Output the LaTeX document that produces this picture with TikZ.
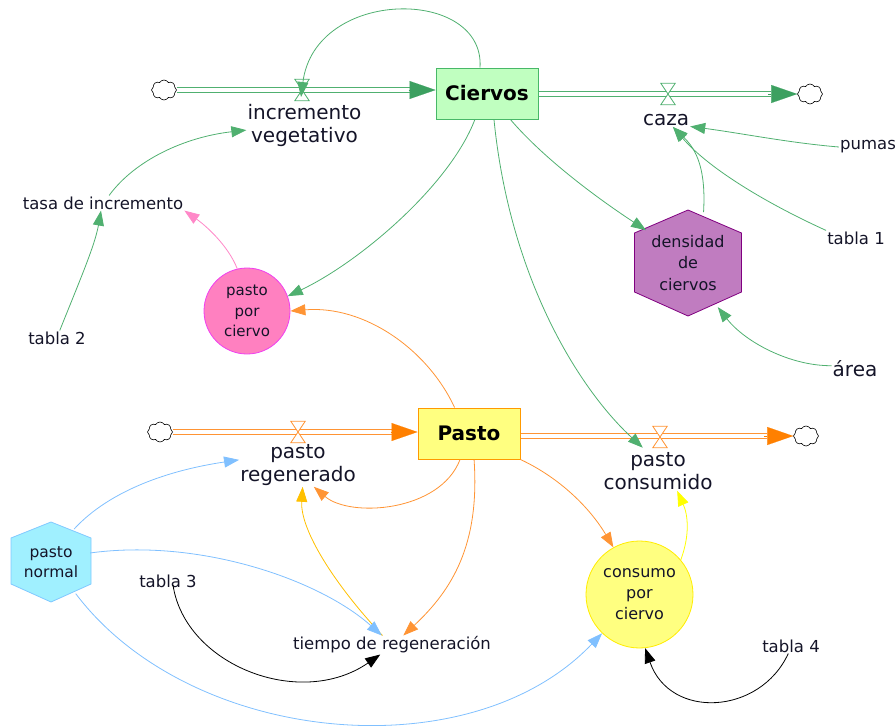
\documentclass[tikz,border=0pt]{standalone}
\usepackage{fontspec}
\setmainfont{DejaVu Sans}
\usetikzlibrary{arrows.meta,shapes.symbols,calc}
\definecolor{gline}{RGB}{80,176,112}
\definecolor{garrow}{RGB}{60,160,96}
\definecolor{cfill}{RGB}{192,255,192}
\definecolor{cdraw}{RGB}{72,184,104}
\definecolor{oline}{RGB}{255,148,52}
\definecolor{oarrow}{RGB}{255,128,0}
\definecolor{pfill}{RGB}{255,255,128}
\definecolor{pdraw}{RGB}{255,153,0}
\definecolor{pinkc}{RGB}{255,136,200}
\definecolor{ppcfill}{RGB}{255,128,192}
\definecolor{ppcdraw}{RGB}{240,64,240}
\definecolor{dfill}{RGB}{192,124,192}
\definecolor{ddraw}{RGB}{128,0,128}
\definecolor{nfill}{RGB}{160,240,255}
\definecolor{ndraw}{RGB}{128,200,255}
\definecolor{bline}{RGB}{128,192,255}
\definecolor{yel}{RGB}{255,255,0}
\definecolor{yfill}{RGB}{255,255,128}
\definecolor{yorange}{RGB}{255,192,0}
\definecolor{txt}{RGB}{20,20,40}
\tikzset{
  lbl/.style={font=\fontsize{20}{23}\selectfont, text=txt, align=center, inner sep=1pt},
  sm/.style={font=\fontsize{16.5}{20}\selectfont, text=txt, inner sep=1pt},
  stock/.style={draw, line width=1pt, minimum width=102pt, minimum height=51pt,
    font=\bfseries\fontsize{20}{24}\selectfont, text=black, inner sep=0pt},
  valve/.style={inner sep=0pt, minimum width=14pt, minimum height=21pt},
  cld/.style={cloud, cloud puffs=8, cloud puff arc=120, cloud ignores aspect, draw=black,
    line width=0.6pt, minimum width=25pt, minimum height=20pt, inner sep=0pt},
  conn/.style={line width=0.8pt, -{Triangle[length=15pt,width=11pt]}},
  flowln/.style={line width=1pt, double=white, double distance=3.5pt},
  ftip/.style={line width=0.1pt, -{Triangle[length=26pt,width=18pt]}},
  vdraw/.style={line width=0.8pt, fill=white},
}
\begin{document}
\begin{tikzpicture}[x=1pt,y=-1pt]
\useasboundingbox (0,0) rectangle (896,726);

% ---------- shaped backgrounds ----------
\coordinate (densc) at (688,263);
\coordinate (pnc) at (51,562);
\path[fill=dfill, draw=ddraw, line width=0.8pt]
  ($(densc)+(0,-53)$) -- ($(densc)+(53.5,-30)$) -- ($(densc)+(53.5,29)$) --
  ($(densc)+(0,53)$) -- ($(densc)+(-53.5,29)$) -- ($(densc)+(-53.5,-30)$) -- cycle;
\path[fill=nfill, draw=ndraw, line width=0.8pt]
  ($(pnc)+(0,-40)$) -- ($(pnc)+(40,-24)$) -- ($(pnc)+(40,22)$) --
  ($(pnc)+(0,40)$) -- ($(pnc)+(-40,22)$) -- ($(pnc)+(-40,-24)$) -- cycle;

% ---------- nodes ----------
\node[stock, fill=cfill, draw=cdraw] (ciervos) at (487,93.5) {Ciervos};
\node[stock, fill=pfill, draw=pdraw] (pasto) at (469,433.5) {Pasto};

\node[cld] (c1) at (164,90) {};
\node[cld] (c2) at (810,94) {};
\node[cld] (c3) at (160,432) {};
\node[cld] (c4) at (806,436) {};

\node[valve] (v1) at (302,90) {};
\node[valve] (v2) at (668,94) {};
\node[valve] (v3) at (298,432) {};
\node[valve] (v4) at (660,437) {};

\node[lbl] (incr) at (304.5,125) {incremento\\vegetativo};
\node[lbl] (caza) at (666,120) {caza};
\node[sm] (pumas) at (868,147) {pumas};
\node[sm] (tabla1) at (856,238) {tabla 1};
\node[lbl] (area) at (855,369) {área};
\node[sm] (tasa) at (103,203) {tasa de incremento};
\node[sm] (tabla2) at (57,338) {tabla 2};
\node[lbl] (preg) at (298,465) {pasto\\regenerado};
\node[lbl] (pcons) at (658,471) {pasto\\consumido};
\node[sm] (tabla3) at (168,581) {tabla 3};
\node[sm] (tr) at (392,645) {tiempo de regeneración};
\node[sm] (tabla4) at (791,646) {tabla 4};

\node[circle, fill=ppcfill, draw=ppcdraw, line width=0.8pt, minimum size=86pt, inner sep=0pt,
  align=center, text=txt, font=\fontsize{15}{20.5}\selectfont] (ppc) at (247,311) {pasto\\por\\ciervo};
\node[circle, fill=yfill, draw=yel!85!orange, line width=0.8pt, minimum size=107pt, inner sep=0pt,
  align=center, text=txt, font=\fontsize{16}{21}\selectfont] (cpc) at (639.5,594.5) {consumo\\por\\ciervo};
\node[circle, minimum size=106pt, inner sep=0pt, align=center, text=txt,
  font=\fontsize{16}{21.5}\selectfont] (dens) at (densc) {densidad\\de\\ciervos};
\node[circle, minimum size=80pt, inner sep=0pt, align=center, text=txt,
  font=\fontsize{15.5}{19.5}\selectfont] (pn) at (pnc) {pasto\\normal};

% ---------- flows ----------
\draw[flowln, draw=gline] (c1.east) -- ($(ciervos.west|-c1.east)+(-24,0)$);
\draw[ftip, garrow] ($(ciervos.west|-c1.east)+(-27,0)$) -- (ciervos.west|-c1.east);
\draw[flowln, draw=gline] (ciervos.east|-c2.west) -- ($(c2.west)+(-26,0)$);
\draw[ftip, garrow] ($(c2.west)+(-29,0)$) -- (c2.west);
\draw[vdraw, draw=gline] (v1.north west) -- (v1.north east) -- (v1.south west) -- (v1.south east) -- cycle;
\draw[vdraw, draw=gline] (v2.north west) -- (v2.north east) -- (v2.south west) -- (v2.south east) -- cycle;

\draw[flowln, draw=oline] (c3.east) -- ($(pasto.west|-c3.east)+(-24,0)$);
\draw[ftip, oarrow] ($(pasto.west|-c3.east)+(-27,0)$) -- (pasto.west|-c3.east);
\draw[flowln, draw=oline] (pasto.east|-c4.west) -- ($(c4.west)+(-26,0)$);
\draw[ftip, oarrow] ($(c4.west)+(-29,0)$) -- (c4.west);
\draw[vdraw, draw=oline] (v3.north west) -- (v3.north east) -- (v3.south west) -- (v3.south east) -- cycle;
\draw[vdraw, draw=oline] (v4.north west) -- (v4.north east) -- (v4.south west) -- (v4.south east) -- cycle;

% ---------- green connectors ----------
\draw[conn, gline] (ciervos.105) .. controls (485,-13) and (315,-13) .. ($(v1.center)+(-1,7)$);
\draw[conn, gline] (tasa.51) .. controls (135,160) and (185,137) .. (incr.185);
\draw[conn, gline] (tabla2.70) .. controls (80,280) and (95,245) .. ($(tasa.south)+(-2,0)$);
\draw[conn, gline] (ciervos.245) .. controls (450,185) and (360,262) .. (ppc.20);
\draw[conn, gline] (ciervos.312) .. controls (545,160) and (600,200) .. (dens.142);
\draw[conn, gline] (ciervos.285) .. controls (510,280) and (580,390) .. ($(v4.south west)+(-10,0)$);
\draw[conn, gline] (dens.73) .. controls (706,170) and (697,150) .. (caza.315);
\draw[conn, gline] (pumas.west) .. controls (790,143) and (740,133) .. (caza.345);
\draw[conn, gline] (tabla1.north west) .. controls (770,205) and (710,170) .. (caza.315);
\draw[conn, gline] (area.172) .. controls (790,366) and (745,342) .. (dens.304);

% ---------- pink ----------
\draw[conn, pinkc] (ppc.103) .. controls (228,245) and (205,225) .. (tasa.south east);

% ---------- orange ----------
\draw[conn, oline] (pasto.119) .. controls (428,350) and (365,305) .. (ppc.0);
\draw[conn, oline] (pasto.251) .. controls (440,512) and (350,518) .. (preg.-54);
\draw[conn, oline] (pasto.281) .. controls (480,545) and (452,590) .. (tr.40);
\draw[conn, oline] (pasto.south east) .. controls (560,478) and (590,508) .. (cpc.119);

% ---------- yellow ----------
\draw[conn, yel] (cpc.40) .. controls (690,535) and (688,515) .. (pcons.-46);
\draw[conn, yorange] (tr.135) .. controls (335,585) and (300,530) .. (preg.-78);

% ---------- blue ----------
\draw[conn, bline] (pn.55) .. controls (110,490) and (170,470) .. (preg.175);
\draw[conn, bline] (pn.13) .. controls (200,538) and (320,580) .. (tr.137);
\draw[conn, bline] (pn.-52) .. controls (190,745) and (470,772) .. (cpc.226);

% ---------- black ----------
\draw[conn, black] ($(tabla3.center)+(5,4)$) .. controls (185,665) and (300,710) .. (tr.219);
\draw[conn, black] (tabla4.-110) .. controls (760,715) and (670,720) .. (cpc.276);
\end{tikzpicture}
\end{document}
